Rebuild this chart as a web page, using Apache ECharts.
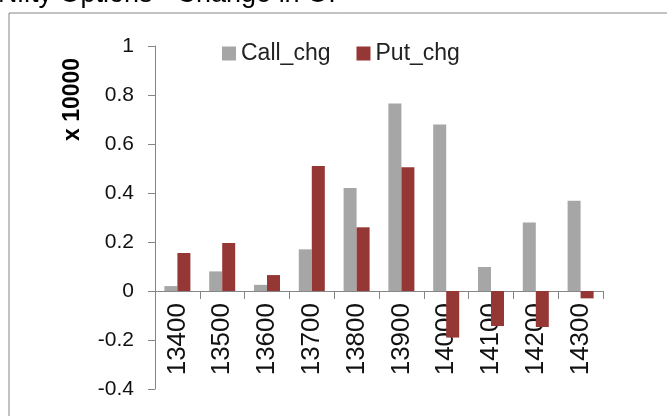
<!DOCTYPE html>
<html>
<head>
<meta charset="utf-8">
<script src="https://cdn.jsdelivr.net/npm/echarts@6/dist/echarts.min.js"></script>
<style>html,body{margin:0;padding:0;background:#fff;}#c{width:667px;height:416px;}</style>
</head>
<body>
<div id="c"></div>
<script>
const categories = ['13400','13500','13600','13700','13800','13900','14000','14100','14200','14300'];
const callChg = [0.02, 0.08, 0.025, 0.17, 0.42, 0.765, 0.68, 0.098, 0.28, 0.368];
const putChg = [0.155, 0.196, 0.065, 0.51, 0.26, 0.505, -0.19, -0.143, -0.147, -0.03];
const seriesNames = ['Call_chg', 'Put_chg'];
const titleText = 'Nifty Options - Change in OI';
const yAxisName = 'x 10000';
const yMin = -0.4, yMax = 1;

const chart = echarts.init(document.getElementById('c'));
const font = 'Liberation Sans, Arial, sans-serif';
const gridTop = 46, gridBottom = 27, H = 416;
const plotH = H - gridTop - gridBottom;
const zeroOffset = -plotH * (0 - yMin) / (yMax - yMin);
chart.setOption({
  animation: false,
  title: {
    text: titleText, left: -2, top: -19, padding: 0,
    textStyle: { fontFamily: font, fontSize: 27, fontWeight: 'normal', color: '#000' }
  },
  graphic: [
    { type: 'rect', shape: { x: 9, y: 13, width: 700, height: 450 }, style: { fill: 'none', stroke: '#868686', lineWidth: 1 }, silent: true },
    { type: 'text', x: 61, y: 141, rotation: Math.PI / 2, style: { text: yAxisName, font: 'bold 23px ' + font, fill: '#000', textAlign: 'left', textVerticalAlign: 'top' } }
  ],
  legend: {
    data: seriesNames, left: 222, top: 42, padding: 0, itemWidth: 14, itemHeight: 14, itemGap: 26,
    icon: 'rect',
    textStyle: { fontFamily: font, fontSize: 23, color: '#222' }
  },
  grid: { left: 155, top: gridTop, right: 64, bottom: gridBottom, containLabel: false, outerBoundsMode: 'none' },
  xAxis: {
    type: 'category', data: categories, position: 'bottom', offset: zeroOffset,
    axisLine: { onZero: false, lineStyle: { color: '#868686' } },
    axisTick: { show: true, length: 8, lineStyle: { color: '#868686' } },
    axisLabel: { rotate: 90, margin: 12, fontFamily: font, fontSize: 26, color: '#111' }
  },
  yAxis: {
    type: 'value', min: yMin, max: yMax, interval: 0.2,
    axisLine: { show: true, lineStyle: { color: '#868686' } },
    axisTick: { show: true, length: 7, lineStyle: { color: '#868686' } },
    splitLine: { show: false },
    axisLabel: { margin: 21, fontFamily: font, fontSize: 21, color: '#111',
      formatter: v => String(Math.round(v * 10) / 10) }
  },
  series: [
    { name: seriesNames[0], type: 'bar', data: callChg, barWidth: 13, barGap: '0%', itemStyle: { color: '#A6A6A6' } },
    { name: seriesNames[1], type: 'bar', data: putChg, barWidth: 13, barGap: '0%', itemStyle: { color: '#953735' } }
  ]
});
</script>
</body>
</html>
